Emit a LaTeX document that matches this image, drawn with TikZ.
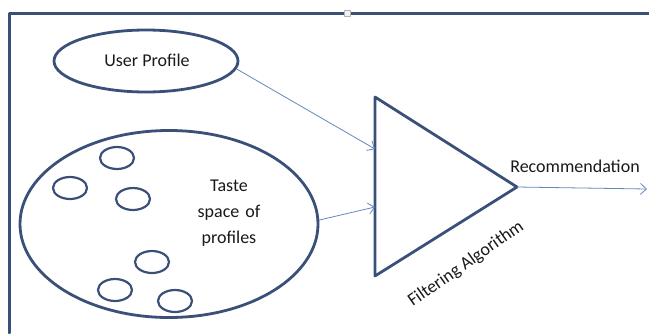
\documentclass[tikz,border=0pt]{standalone}
\usepackage{fontspec}
\setmainfont{Carlito}
\usepackage{tikz}
\usetikzlibrary{arrows.meta,shapes.geometric}
\definecolor{shapeblue}{RGB}{58,80,120}
\definecolor{arrowblue}{RGB}{98,136,188}
\tikzset{
  oval/.style={draw=shapeblue,line width=2.8pt,ellipse,inner sep=0pt},
  dot/.style={oval,line width=2.2pt,minimum width=34pt,minimum height=22pt},
  link/.style={draw=arrowblue,line width=0.8pt,-{Straight Barb[length=6pt,width=11pt]}},
  lbl/.style={font=\fontsize{18}{26}\selectfont,text=black!90,align=center}
}
\begin{document}
\begin{tikzpicture}[line cap=round,line join=round,x=1pt,y=-1pt]
\useasboundingbox (0,0) rectangle (649,333);
% frame
\draw[shapeblue,line width=3pt] (9,333) -- (9,13) -- (649,13);
\draw[gray!60,fill=gray!10,line width=0.5pt] (344,10) rectangle (350,16);
% inputs
\node[oval,minimum width=184pt,minimum height=62pt] (user) at (146,61) {};
\node[lbl] (userlbl) at (147,60) {User Profile};
\node[oval,minimum width=298pt,minimum height=187pt] (taste) at (169,224) {};
\node[lbl,text width=80pt] (tastelbl) at (229,213) {Taste\\space of\\profiles};
\node[dot] (p1) at (117,158) {};
\node[dot] (p2) at (70,188) {};
\node[dot] (p3) at (133,199) {};
\node[dot] (p4) at (152,262) {};
\node[dot] (p5) at (115,290) {};
\node[dot] (p6) at (175,301) {};
% filter
\coordinate (ftop) at (375,97);
\coordinate (fbot) at (375,276);
\coordinate (tip) at (517,187);
\draw[shapeblue,line width=2.8pt] (ftop) -- (tip) -- (fbot) -- cycle;
\coordinate (in1) at (375,149);
\coordinate (in2) at (375,207);
\coordinate (out) at (647,189);
\draw[link] (user.-5) -- (in1);
\draw[link] (taste.east)++(0,-4) -- (in2);
\draw[link] (tip) -- (out);
\node[lbl] (rec) at (575,166) {Recommendation};
\node[lbl,rotate=35] (alg) at (466,264) {Filtering Algorithm};
\end{tikzpicture}
\end{document}
